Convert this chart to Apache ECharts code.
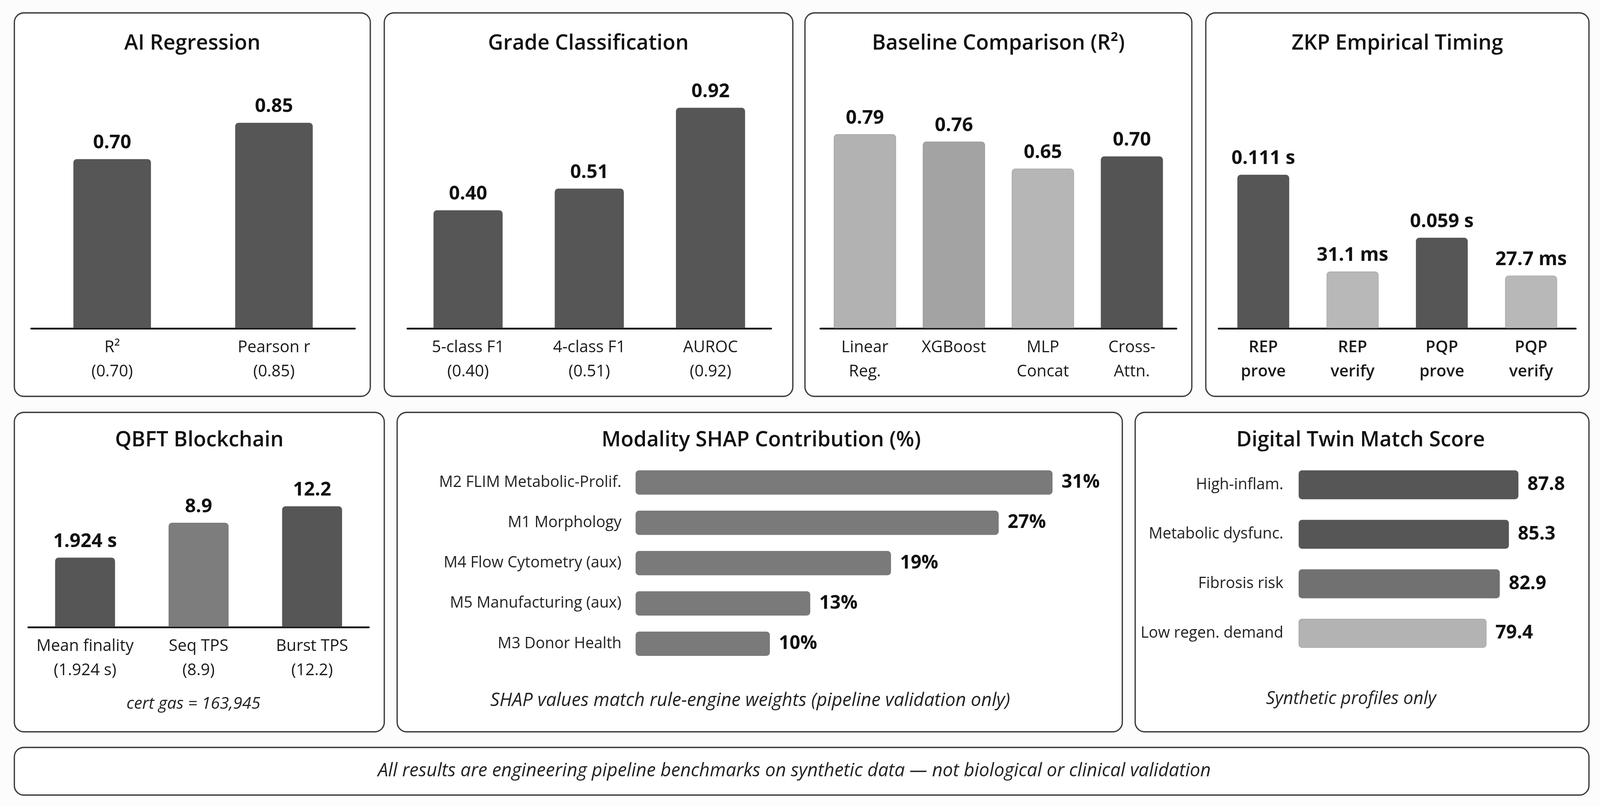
<!DOCTYPE html>
<html>
<head>
<meta charset="utf-8">
<script src="https://cdn.jsdelivr.net/npm/echarts@6/dist/echarts.min.js"></script>
<style>
html, body { margin: 0; padding: 0; background: #fcfcfc; overflow: hidden; }
#main { width: 100vw; height: 100vh; }
</style>
</head>
<body>
<div id="main"></div>
<script>
//--------------------Data--------------------
let reg_cats = ['R²', 'Pearson r'];
let reg_vals = [0.70, 0.85];
let grade_cats = ['5-class F1', '4-class F1', 'AUROC'];
let grade_vals = [0.40, 0.51, 0.92];
let base_cats = ['Linear\nReg.', 'XGBoost', 'MLP\nConcat', 'Cross-\nAttn.'];
let base_vals = [0.79, 0.76, 0.65, 0.70];
let zkp_cats = ['REP\nprove', 'REP\nverify', 'PQP\nprove', 'PQP\nverify'];
let zkp_vals = [0.111, 0.0311, 0.059, 0.0277]; // seconds
let zkp_text = ['0.111 s', '31.1 ms', '0.059 s', '27.7 ms'];
let qbft_cats = ['Mean finality', 'Seq TPS', 'Burst TPS'];
let qbft_vals = [1.924, 8.9, 12.2];
let qbft_text = ['1.924 s', '8.9', '12.2'];
let shap_cats = ['M2 FLIM Metabolic-Prolif.', 'M1 Morphology', 'M4 Flow Cytometry (aux)', 'M5 Manufacturing (aux)', 'M3 Donor Health'];
let shap_vals = [31, 27, 19, 13, 10];
let twin_cats = ['High-inflam.', 'Metabolic dysfunc.', 'Fibrosis risk', 'Low regen. demand'];
let twin_vals = [87.8, 85.3, 82.9, 79.4];

//--------------------Style--------------------
let font_family = 'Open Sans';
let dark = '#565656';
let reg_colors = [dark, dark];
let grade_colors = [dark, dark, dark];
let base_colors = ['#b2b2b2', '#a3a3a3', '#b6b6b6', '#545454'];
let zkp_colors = [dark, '#b8b8b8', dark, '#b8b8b8'];
let qbft_colors = [dark, '#7d7d7d', dark];
let shap_colors = ['#7a7a7a', '#7a7a7a', '#7a7a7a', '#7a7a7a', '#7a7a7a'];
let twin_colors = [dark, dark, '#717171', '#b3b3b3'];

let chart_dom = document.getElementById('main');
let chart = echarts.init(chart_dom);

// layout is measured on a 4351 x 2064 canvas, then fitted to the window
let sx = chart_dom.clientWidth / 4351;
let sy = chart_dom.clientHeight / 2064;
let sf = Math.min(sx, sy);
let X = v => v * sx, Y = v => v * sy, F = v => v * sf;

let grids = [], x_axes = [], y_axes = [], series = [], graphics = [];

// vertical bar panel
function vbar(box, cats, vals, colors, texts, range, bar_w, fmt, cat_bold) {
    let idx = grids.length;
    grids.push({left: X(box[0]), top: Y(box[2]), width: X(box[1] - box[0]), height: Y(box[3] - box[2])});
    x_axes.push({
        gridIndex: idx, type: 'category', data: cats,
        axisLine: {onZero: false, lineStyle: {color: '#111', width: F(5)}},
        axisTick: {show: false},
        splitLine: {show: false},
        axisLabel: {
            interval: 0, margin: Y(18), fontSize: F(44), lineHeight: Y(62),
            color: '#1a1a1a', fontFamily: font_family,
            fontWeight: cat_bold ? 600 : 'normal',
            formatter: fmt
        }
    });
    y_axes.push({gridIndex: idx, type: 'value', min: range[0], max: range[1], startValue: range[0], show: false});
    series.push({
        type: 'bar', xAxisIndex: idx, yAxisIndex: idx, barWidth: X(bar_w),
        data: vals.map((v, i) => ({value: v, itemStyle: {color: colors[i]}})),
        itemStyle: {borderRadius: [F(9), F(9), 0, 0], borderColor: 'rgba(0,0,0,0.18)', borderWidth: 1.5},
        label: {
            show: true, position: 'top', distance: Y(16),
            fontSize: F(52), fontWeight: 'bold', color: '#111', fontFamily: font_family,
            formatter: p => texts[p.dataIndex]
        }
    });
}

// horizontal bar panel
function hbar(box, cats, vals, colors, texts, range, bar_w, margin) {
    let idx = grids.length;
    grids.push({left: X(box[0]), top: Y(box[2]), width: X(box[1] - box[0]), height: Y(box[3] - box[2])});
    x_axes.push({gridIndex: idx, type: 'value', min: range[0], max: range[1], startValue: range[0], show: false});
    y_axes.push({
        gridIndex: idx, type: 'category', data: cats, inverse: true,
        axisLine: {show: false}, axisTick: {show: false},
        axisLabel: {margin: X(margin), fontSize: F(42), color: '#222', fontFamily: font_family}
    });
    series.push({
        type: 'bar', xAxisIndex: idx, yAxisIndex: idx, barWidth: Y(bar_w),
        data: vals.map((v, i) => ({value: v, itemStyle: {color: colors[i]}})),
        itemStyle: {borderRadius: F(9), borderColor: 'rgba(0,0,0,0.18)', borderWidth: 1.5},
        label: {
            show: true, position: 'right', distance: X(24),
            fontSize: F(51), fontWeight: 'bold', color: '#111', fontFamily: font_family,
            formatter: p => texts[p.dataIndex]
        }
    });
}

function box(x, y, w, h) {
    graphics.push({
        type: 'rect', z: 0, silent: true,
        shape: {x: X(x), y: Y(y), width: X(w), height: Y(h), r: F(26)},
        style: {fill: '#ffffff', stroke: '#3c3c3c', lineWidth: F(3.5)}
    });
}

function text(str, x, y, size, weight, italic, color) {
    graphics.push({
        type: 'text', z: 5, silent: true, x: X(x), y: Y(y),
        style: {
            text: str, fill: color || '#111',
            fontSize: F(size), fontWeight: weight, fontStyle: italic ? 'italic' : 'normal',
            fontFamily: font_family,
            align: 'center', verticalAlign: 'middle',
            textAlign: 'center', textVerticalAlign: 'middle'
        }
    });
}

//--------------------Panels--------------------
box(39, 33, 968, 982);
box(1045, 33, 1111, 982);
box(2189, 33, 1052, 982);
box(3279, 33, 1042, 982);
box(39, 1056, 1006, 818);
box(1080, 1056, 1972, 818);
box(3087, 1056, 1234, 818);
box(39, 1914, 4282, 122);

text('AI Regression', 523, 112, 57, 600);
text('Grade Classification', 1600, 112, 57, 600);
text('Baseline Comparison (R²)', 2715, 112, 57, 600);
text('ZKP Empirical Timing', 3800, 112, 57, 600);
text('QBFT Blockchain', 542, 1128, 57, 600);
text('Modality SHAP Contribution (%)', 2070, 1128, 57, 600);
text('Digital Twin Match Score', 3700, 1128, 57, 600);

text('cert gas = 163,945', 526, 1803, 45, 'normal', true, '#222');
text('SHAP values match rule-engine weights (pipeline validation only)', 2040, 1795, 50, 'normal', true, '#222');
text('Synthetic profiles only', 3674, 1790, 48, 'normal', true, '#222');
text('All results are engineering pipeline benchmarks on synthetic data \u2014 not biological or clinical validation', 2160, 1975, 50, 'normal', true, '#222');

//--------------------Charts--------------------
vbar([85, 965, 221, 841], reg_cats, reg_vals, reg_colors,
    reg_vals.map(v => v.toFixed(2)), [0, 1], 212,
    (v, i) => v + '\n(' + reg_vals[i].toFixed(2) + ')');
vbar([1108, 2097, 235, 841], grade_cats, grade_vals, grade_colors,
    grade_vals.map(v => v.toFixed(2)), [-0.2, 1], 189,
    (v, i) => v + '\n(' + grade_vals[i].toFixed(2) + ')');
vbar([2231, 3199, 211, 841], base_cats, base_vals, base_colors,
    base_vals.map(v => v.toFixed(2)), [0, 1], 170, v => v);
vbar([3314, 4285, 326, 841], zkp_cats, zkp_vals, zkp_colors,
    zkp_text, [-0.016, 0.15], 142, v => v, true);
vbar([77, 1003, 1196, 1606], qbft_cats, qbft_vals, qbft_colors,
    qbft_text, [-12, 20], 164,
    (v, i) => v + '\n(' + qbft_text[i] + ')');
hbar([1728, 3009, 1184, 1700], shap_cats, shap_vals, shap_colors,
    shap_vals.map(v => v + '%'), [0, 35], 63, 38);
hbar([3531, 4256, 1178, 1685], twin_cats, twin_vals, twin_colors,
    twin_vals.map(v => v.toFixed(1)), [30, 100], 75, 41);

//------------------Generate Graph------------------
let chart_option = {
    animation: false,
    backgroundColor: '#fcfcfc',
    textStyle: {fontFamily: font_family},
    graphic: graphics,
    grid: grids,
    xAxis: x_axes,
    yAxis: y_axes,
    series: series
};
chart.setOption(chart_option, true);
</script>
</body>
</html>
